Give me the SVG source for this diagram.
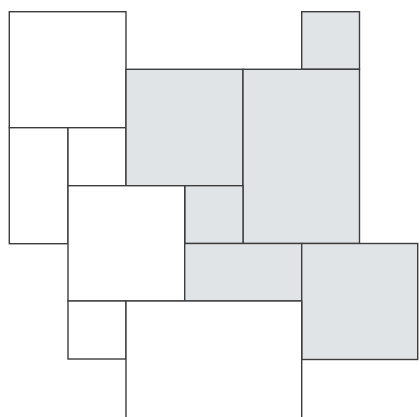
<svg xmlns="http://www.w3.org/2000/svg" width="420" height="417" viewBox="0 0 420 417">
<style>
rect{stroke:#3d3d3d;stroke-width:1.4}
.w{fill:#ffffff}
.g{fill:#e1e4e7}
</style>
<rect width="420" height="417" fill="#ffffff" style="stroke:none"/>
<g id="A"><rect class="w" x="9.3" y="11.7" width="116.7" height="116"/></g>
<g id="B"><rect class="w" x="9.3" y="127.7" width="58.7" height="116"/></g>
<g id="C"><rect class="w" x="68" y="127.7" width="58" height="58"/></g>
<g id="G1"><rect class="g" x="126" y="69.3" width="117" height="116.4"/></g>
<g id="G4"><rect class="g" x="301.7" y="11.7" width="57.8" height="57.6"/></g>
<g id="G3"><rect class="g" x="243" y="69.3" width="116.5" height="174.2"/></g>
<g id="G2"><rect class="g" x="184.7" y="185.7" width="58.3" height="57.8"/></g>
<g id="D"><rect class="w" x="68" y="185.7" width="116.7" height="115.3"/></g>
<g id="G5"><rect class="g" x="184.7" y="243.5" width="117" height="57.5"/></g>
<g id="G6"><rect class="g" x="301.7" y="243.5" width="116" height="116"/></g>
<g id="E"><rect class="w" x="68" y="301" width="58" height="58"/></g>
<g id="F"><rect class="w" x="126" y="301" width="175.7" height="175"/></g>
<g id="connectors"></g>
</svg>
